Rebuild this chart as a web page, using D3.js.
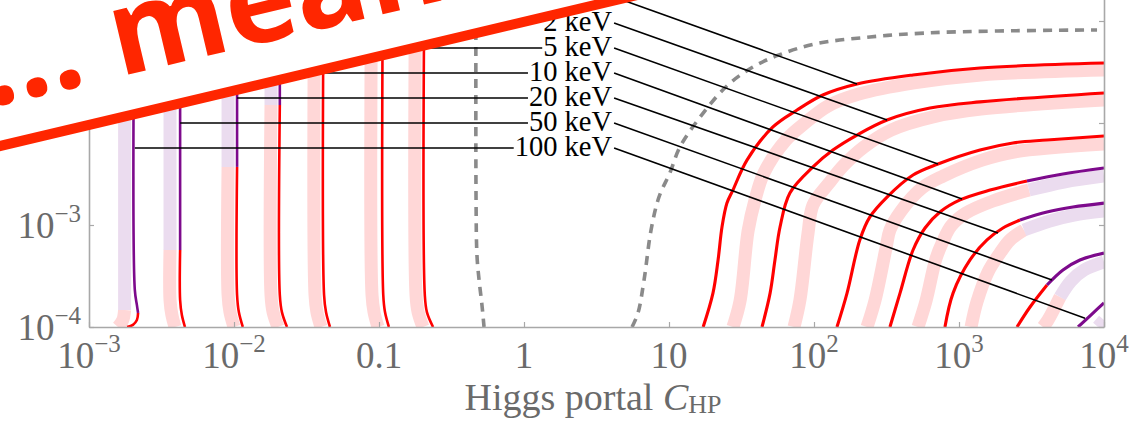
<!DOCTYPE html>
<html><head><meta charset="utf-8">
<script src="https://cdn.jsdelivr.net/npm/d3@7"></script>
<style>
html,body{margin:0;padding:0;background:#fff;}
svg{display:block;}
</style></head><body>
<svg id="chart" width="1132" height="422"></svg>
<script>
// ---- axis ticks ----
const xTicks = [1e-3, 1e-2, 0.1, 1, 10, 100, 1000, 1e4];
const xTickLabels = [["10","\u22123"],["10","\u22122"],["0.1",""],["1",""],["10",""],["10","2"],["10","3"],["10","4"]];
const yTicks = [1e-4, 1e-3, 1e-2, 1e-1];
const yTickLabels = [["10","\u22124"],["10","\u22123"],["10","\u22122"],["10","\u22121"]];

// ---- mass labels ----
const massLabels = ["1 keV","2 keV","5 keV","10 keV","20 keV","50 keV","100 keV"];
const labelAnchorC = 4.05;                       // C_HP where the label text ends
const labelY = [0.172, 9.55e-2, 5.43e-2, 3.09e-2, 1.76e-2, 1.0e-2, 5.69e-3];
// start of the horizontal leader on the low-C_HP contours (null: none)
const leaderStartC = [null, null, 0.207, 4.18e-2, 1.05e-2, 4.25e-3, 2.07e-3];
// end of the slanted leader on the high-C_HP contours
const leaderEnd = [[198,2.41e-2],[319,1.07e-2],[716,3.96e-3],[1050,1.80e-3],[1858,8.36e-4],[4375,2.89e-4],[7396,1.22e-4]];

// ---- high-C_HP contours (red / purple parts) ----
const highRed = [
  [[17.2,1e-4],[20.1,2.15e-4],[21.8,4.54e-4],[23.2,9.55e-4],[25.1,1.64e-3],[27.6,2.20e-3],[34.5,4.33e-3],[52.1,9.14e-3],[76.4,1.34e-2],[115,1.88e-2],[198,2.41e-2],[482,2.96e-2],[1396,3.46e-2],[1e4,3.87e-2]],
  [[43.8,1e-4],[49.8,2.15e-4],[53.8,4.54e-4],[58.3,9.55e-4],[68.2,2.06e-3],[98.4,3.71e-3],[135,5.43e-3],[198,7.62e-3],[319,1.07e-2],[631,1.40e-2],[1396,1.61e-2],[1e4,1.97e-2]],
  [[144,1e-4],[169,2.15e-4],[207,7.13e-4],[243,1.20e-3],[319,1.88e-3],[482,3.09e-3],[716,3.96e-3],[1396,5.43e-3],[2355,6.37e-3],[4046,6.81e-3],[1e4,7.46e-3]],
  [[334,1e-4],[392,2.15e-4],[482,5.69e-4],[583,9.35e-4],[739,1.34e-3],[1016,1.76e-3],[1637,2.20e-3],[2944,2.70e-3]],
  [[800,1e-4],[910,2.15e-4],[1191,4.54e-4],[1560,7.13e-4],[2009,9.35e-4],[2636,1.12e-3]],
  [[2512,1e-4],[3090,1.57e-4],[4046,2.58e-4]],
  []
];
const highPurple = [
  [], [], [],
  [[2944,2.70e-3],[5212,3.16e-3],[1e4,3.62e-3]],
  [[2636,1.12e-3],[4046,1.34e-3],[6109,1.50e-3],[1e4,1.64e-3]],
  [[4046,2.58e-4],[5212,3.62e-4],[6823,4.54e-4],[1e4,5.31e-4]],
  [[6622,1e-4],[8395,1.37e-4],[1e4,1.72e-4]]
];
const highBandPink = [
  [[27.6,1e-4],[30.9,1.80e-4],[35.1,8.73e-4],[39.2,1.76e-3],[45.2,3.24e-3],[64.1,6.81e-3],[86.7,1e-2],[125,1.47e-2],[204,1.92e-2],[490,2.47e-2],[1419,2.96e-2],[1e4,3.31e-2]],
  [[72.8,1e-4],[80.0,1.84e-4],[91.0,8.36e-4],[98.4,1.57e-3],[127,2.58e-3],[161,3.87e-3],[221,5.82e-3],[340,8.53e-3],[662,1.15e-2],[1419,1.37e-2],[1e4,1.68e-2]],
  [[232,1e-4],[264,1.84e-4],[314,5.96e-4],[334,8.93e-4],[398,1.37e-3],[556,2.31e-3],[776,3.02e-3],[1442,4.33e-3],[2393,5.20e-3],[1e4,6.22e-3]],
  [[521,1e-4],[592,1.80e-4],[693,4.65e-4],[776,6.97e-4],[881,9.77e-4],[1117,1.31e-3],[1714,1.72e-3],[3041,2.20e-3]],
  [[1211,1e-4],[1330,1.76e-4],[1585,3.46e-4],[1919,5.31e-4],[2249,7.13e-4],[2805,8.93e-4]],
  [[3793,1e-4],[4111,1.17e-4],[4977,1.97e-4]],
  []
];
const highBandLilac = [
  [], [], [],
  [[3041,2.20e-3],[5297,2.64e-3],[1e4,3.02e-3]],
  [[2805,8.93e-4],[4178,1.09e-3],[6209,1.25e-3],[1e4,1.37e-3]],
  [[4977,1.97e-4],[5916,2.82e-4],[7278,3.62e-4],[1e4,4.34e-4]],
  [[9095,1e-4],[1e4,1.17e-4]]
];

// ---- low-C_HP contours ----
const lowPurple = [
  [[2.07e-3,1],[2.07e-3,2.31e-4],[2.14e-3,1.64e-4],[2.18e-3,1.37e-4]],
  [[4.25e-3,1],[4.25e-3,5.69e-4]],
  [[1.05e-2,1],[1.05e-2,3.71e-3]],
  [[2.07e-2,1],[2.07e-2,1.50e-2]],
  [], [], []
];
const lowRed = [
  [[2.18e-3,1.37e-4],[2.14e-3,1.17e-4],[2.01e-3,1.05e-4],[1.83e-3,1e-4]],
  [[4.25e-3,5.69e-4],[4.25e-3,1.84e-4],[4.37e-3,1.31e-4],[4.59e-3,1e-4]],
  [[1.05e-2,3.71e-3],[1.05e-2,2.06e-4],[1.08e-2,1.40e-4],[1.15e-2,1e-4]],
  [[2.07e-2,1.50e-2],[2.07e-2,2.06e-4],[2.14e-2,1.40e-4],[2.32e-2,1e-4]],
  [[4.18e-2,1],[4.18e-2,2.06e-4],[4.31e-2,1.40e-4],[4.59e-2,1e-4]],
  [[0.107,1],[0.107,2.06e-4],[0.110,1.40e-4],[0.117,1e-4]],
  [[0.207,1],[0.207,2.06e-4],[0.214,1.40e-4],[0.236,1e-4]]
];
const lowBandLilac = [
  [[1.76e-3,1],[1.76e-3,1.47e-4]],
  [[3.62e-3,1],[3.62e-3,5.69e-4]],
  [[9.10e-3,1],[9.10e-3,3.71e-3]],
  [[1.80e-2,1],[1.80e-2,1.50e-2]],
  [], [], []
];
const lowBandPink = [
  [[1.76e-3,1.47e-4],[1.71e-3,1.17e-4],[1.585e-3,1e-4]],
  [[3.62e-3,5.69e-4],[3.62e-3,1.84e-4],[3.73e-3,1.31e-4],[3.92e-3,1e-4]],
  [[9.10e-3,3.71e-3],[9.10e-3,2.06e-4],[9.38e-3,1.40e-4],[1.0e-2,1e-4]],
  [[1.80e-2,1.50e-2],[1.80e-2,2.06e-4],[1.86e-2,1.40e-4],[2.01e-2,1e-4]],
  [[3.62e-2,1],[3.62e-2,2.06e-4],[3.73e-2,1.40e-4],[3.98e-2,1e-4]],
  [[8.95e-2,1],[8.95e-2,2.06e-4],[9.24e-2,1.40e-4],[9.84e-2,1e-4]],
  [[0.180,1],[0.180,2.06e-4],[0.186,1.40e-4],[0.201,1e-4]]
];

// ---- dashed boundaries ----
const dashedLow = [[0.467,1],[0.467,1.76e-3],[0.474,5e-4],[0.490,2.89e-4],[0.513,1.64e-4],[0.530,1e-4]];
const dashedHigh = [[5.56,1e-4],[6.11,1.37e-4],[6.73,2.89e-4],[7.52,8.93e-4],[8.53,1.88e-3],[10.2,3.31e-3],[11.9,5.82e-3],[17.2,1.25e-2],[25.5,2.36e-2],[37.9,3.54e-2],[57.4,4.65e-2],[102,5.96e-2],[243,6.97e-2],[583,7.62e-2],[1858,7.98e-2],[8954,8.17e-2]];

// ---- drawing ----
const RED = "#ff0000", PURPLE = "#7d0a8c", PINK = "#ffd7d7", LILAC = "#ebdcef";
const BANNER = "#ff2600", AXIS = "#a8a8a8", TICKTXT = "#6a6a6a";
const serif = "'Liberation Serif','Times New Roman',serif";

const svg = d3.select("#chart");
svg.append("rect").attr("width",1132).attr("height",422).attr("fill","#fff");

const P = {left:89, right:1104, bottom:327, top:-81};
const x = d3.scaleLog().domain([1e-3,1e4]).range([P.left,P.right]);
const y = d3.scaleLog().domain([1e-4,1]).range([P.bottom,P.top]);

svg.append("defs").append("clipPath").attr("id","plotclip")
  .append("rect").attr("x",P.left).attr("y",P.top).attr("width",P.right-P.left).attr("height",P.bottom-P.top);

const line = d3.line().x(d=>x(d[0])).y(d=>y(d[1])).curve(d3.curveCatmullRom.alpha(0.5));
const g = svg.append("g").attr("clip-path","url(#plotclip)");

function draw(series, color, width){
  series.filter(s=>s.length>1).forEach(s=>{
    g.append("path").attr("d",line(s)).attr("fill","none")
      .attr("stroke",color).attr("stroke-width",width).attr("stroke-linejoin","round");
  });
}
// bands first
draw(highBandPink, PINK, 13);
draw(highBandLilac, LILAC, 13);
draw(lowBandPink, PINK, 13);
draw(lowBandLilac, LILAC, 13);
// dashed boundaries
[dashedLow, dashedHigh].forEach(s=>{
  g.append("path").attr("d",line(s)).attr("fill","none").attr("stroke","#8a8a8a")
   .attr("stroke-width",3.6).attr("stroke-dasharray","9,7");
});
// contour lines
draw(lowRed, RED, 2.6);
draw(lowPurple, PURPLE, 2.6);
draw(highRed, RED, 3.1);
draw(highPurple, PURPLE, 3.1);

// mass labels and leaders
const labG = svg.append("g");
massLabels.forEach((lab,i)=>{
  const xr = x(labelAnchorC), yy = y(labelY[i]);
  const t = labG.append("text").attr("x",xr).attr("y",yy+8).attr("text-anchor","end")
    .attr("font-family",serif).attr("font-size",28.5).attr("fill","#000").text(lab);
  const w = t.node().getComputedTextLength();
  if (leaderStartC[i] !== null) {
    labG.append("line").attr("x1",x(leaderStartC[i])).attr("x2",xr-w-1)
      .attr("y1",yy).attr("y2",yy).attr("stroke","#000").attr("stroke-width",1.6);
  }
  const e = leaderEnd[i];
  labG.append("line").attr("x1",xr+2).attr("y1",yy).attr("x2",x(e[0])).attr("y2",y(e[1]))
    .attr("stroke","#000").attr("stroke-width",1.6);
});

// frame and ticks
function styleAxis(sel){
  sel.selectAll("path.domain").attr("stroke",AXIS).attr("stroke-width",1.6);
  sel.selectAll(".tick line").attr("stroke",AXIS).attr("stroke-width",1.2);
  sel.selectAll(".tick text").remove();
}
svg.append("g").attr("transform",`translate(0,${P.bottom})`)
  .call(d3.axisBottom(x).tickValues(xTicks).tickSize(-5).tickSizeOuter(0).tickFormat(""))
  .call(styleAxis);
svg.append("g").attr("transform",`translate(${P.left},0)`)
  .call(d3.axisLeft(y).tickValues(yTicks).tickSize(-5).tickSizeOuter(0).tickFormat(""))
  .call(styleAxis);
svg.append("g").attr("transform",`translate(${P.right},0)`)
  .call(d3.axisRight(y).tickValues(yTicks).tickSize(-5).tickSizeOuter(0).tickFormat(""))
  .call(styleAxis);

function tickLabel(px, py, anchor, parts){
  const t = svg.append("text").attr("x",px).attr("y",py).attr("text-anchor",anchor)
    .attr("font-family",serif).attr("font-size",37).attr("fill",TICKTXT);
  t.append("tspan").text(parts[0]);
  if (parts[1]) t.append("tspan").attr("font-size",25).attr("dy",-16).text(parts[1]);
}
xTicks.forEach((v,i)=>tickLabel(x(v), 368, "middle", xTickLabels[i]));
yTicks.forEach((v,i)=>tickLabel(81, y(v)+13, "end", yTickLabels[i]));

// axis title
const title = svg.append("text").attr("x",593).attr("y",410).attr("text-anchor","middle")
  .attr("font-family",serif).attr("font-size",38).attr("fill",TICKTXT);
title.append("tspan").text("Higgs portal ");
title.append("tspan").attr("font-style","italic").text("C");
title.append("tspan").attr("font-size",26).attr("dy",3).text("HP");

// overlay banner
const ban = svg.append("g").attr("transform","translate(0,146) rotate(-13.33)");
ban.append("rect").attr("x",-200).attr("y",-500).attr("width",1200).attr("height",500).attr("fill","#fff");
ban.append("line").attr("x1",-200).attr("x2",1000).attr("y1",0).attr("y2",0)
  .attr("stroke",BANNER).attr("stroke-width",10);
const bt = ban.append("text").attr("x",0).attr("y",-40)
  .attr("font-family","'Open Sans',sans-serif").attr("font-weight",700).attr("font-size",120)
  .attr("fill",BANNER).text("... meaning");
const mPos = bt.node().getStartPositionOfChar(4).x;
bt.attr("x", 132 - mPos);
</script>
</body></html>
